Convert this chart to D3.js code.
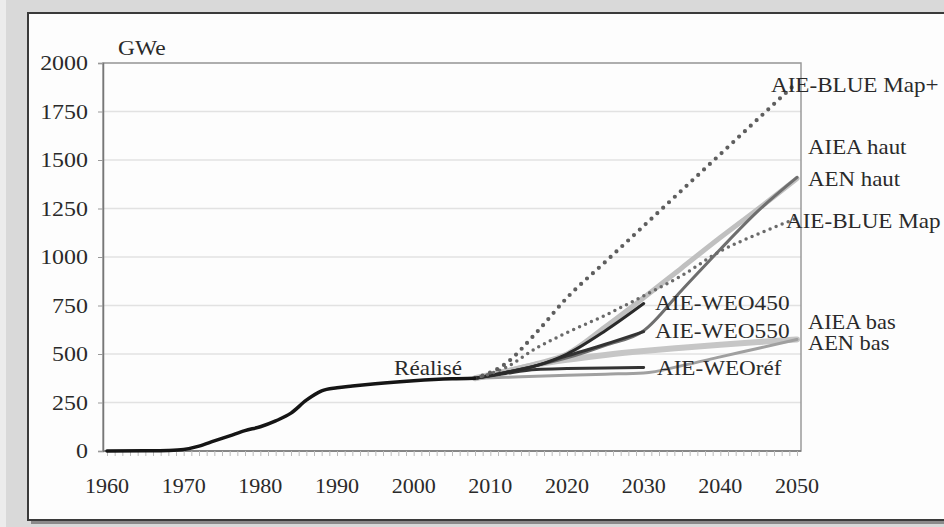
<!DOCTYPE html>
<html><head><meta charset="utf-8">
<script src="https://cdn.jsdelivr.net/npm/d3@7"></script>
<style>html,body{margin:0;padding:0;background:#dcdcdc;}svg{display:block;}</style>
</head><body>
<svg id="c" width="944" height="527"></svg>
<script>
// ---- data ----
const realiseYears  = [1960,1965,1968,1970,1972,1974,1976,1978,1980,1982,1984,1986,1988,1990,1992,1995,2000,2005,2008];
const realiseValues = [0,1,3,8,25,52,78,105,125,155,195,262,310,326,335,347,362,372,375];
const projYears   = [2008,2012,2016,2020,2025,2030,2035,2040,2045,2050];
const weoRef      = [375,400,420,425,428,430,null,null,null,null];
const weo450      = [375,405,440,500,620,760,null,null,null,null];
const weo550      = [375,405,440,490,550,615,null,null,null,null];
const aenHaut     = [375,405,440,480,545,620,830,1040,1240,1410];
const aieaHaut    = [375,410,450,500,640,790,945,1100,1250,1405];
const aieaBas     = [375,410,445,470,495,515,532,548,562,575];
const aenBas      = [375,380,385,390,396,402,440,485,530,575];
const blueMapPlus = [375,450,610,790,975,1160,1345,1530,1715,1900];
const blueMap     = [375,430,530,610,700,800,905,1030,1120,1200];
const yTicks = [0,250,500,750,1000,1250,1500,1750,2000];
const xTicks = [1960,1970,1980,1990,2000,2010,2020,2030,2040,2050];
const unitLabel = "GWe";

// ---- layout ----
const svg = d3.select("#c");
const FONT = '"Liberation Serif"';
const plot = {l:103, r:801, t:63, b:451};
const x = d3.scaleLinear().domain([1960,2050]).range([107,797]);
const y = d3.scaleLinear().domain([0,2000]).range([plot.b, plot.t]);

// frame
svg.append("rect").attr("x",0).attr("y",0).attr("width",944).attr("height",527).attr("fill","#d9d9d9");
svg.append("rect").attr("x",0).attr("y",0).attr("width",6).attr("height",527).attr("fill","#ececec");
svg.append("rect").attr("x",31).attr("y",17).attr("width",930).attr("height",507).attr("fill","#8a8a8a");
svg.append("rect").attr("x",28).attr("y",13).attr("width",930).attr("height",507)
  .attr("fill","#fdfdfd").attr("stroke","#3a3a3a").attr("stroke-width",2);

// grid
svg.append("g").selectAll("line").data(yTicks.filter(d=>d>0)).join("line")
  .attr("x1",plot.l).attr("x2",plot.r).attr("y1",d=>y(d)).attr("y2",d=>y(d))
  .attr("stroke","#e2e2e2").attr("stroke-width",1.5);
// plot border
svg.append("rect").attr("x",plot.l).attr("y",plot.t).attr("width",plot.r-plot.l).attr("height",plot.b-plot.t)
  .attr("fill","none").attr("stroke","#9a9a9a").attr("stroke-width",1.5);

// axes
const yAxis = d3.axisLeft(y).tickValues(yTicks).tickSize(5).tickFormat("");
svg.append("g").attr("transform",`translate(${plot.l},0)`).call(yAxis)
  .call(g=>g.select(".domain").attr("stroke","#777").attr("stroke-width",1.5))
  .call(g=>g.selectAll(".tick line").attr("stroke","#999"));
const yearTicks = d3.range(1960,2051);
const xAxis = d3.axisBottom(x).tickValues(yearTicks).tickSize(5).tickFormat("").tickSizeOuter(0);
svg.append("g").attr("transform",`translate(0,${plot.b})`).call(xAxis)
  .call(g=>g.select(".domain").attr("stroke","#777").attr("stroke-width",1.5).attr("d",`M${plot.l},0H${plot.r}`))
  .call(g=>g.selectAll(".tick line").attr("stroke","#bbb"));

function label(px, py, txt, anchor, sx, size){
  const g = svg.append("g").attr("transform",`translate(${px},${py}) scale(${sx},1)`);
  g.append("text").attr("x",0).attr("y",0).attr("text-anchor",anchor||"start")
    .style("font-family",FONT).style("font-size",(size||21)+"px").attr("fill","#2a2a2a").text(txt);
}
yTicks.forEach(v=>label(88, y(v)+7, String(v), "end", 1.14));
xTicks.forEach(v=>label(x(v), 493, String(v), "middle", 1.05));
label(118, 55, unitLabel, "start", 1.12);

// lines
const line = d3.line().defined(d=>d[1]!=null).x(d=>x(d[0])).y(d=>y(d[1])).curve(d3.curveMonotoneX);
function series(vals, color, w, dash){
  const p = svg.append("path").datum(projYears.map((yr,i)=>[yr,vals[i]]))
    .attr("d",line).attr("fill","none").attr("stroke",color).attr("stroke-width",w)
    .attr("stroke-linecap","round").attr("stroke-linejoin","round");
  if(dash) p.attr("stroke-dasharray",dash);
}
series(aieaBas, "#c6c6c6", 6);
series(aieaHaut, "#c0c0c0", 5);
series(aenBas, "#a0a0a0", 3);
series(aenHaut, "#6e6e6e", 3);
series(weoRef, "#333", 3);
series(weo550, "#333", 3);
series(weo450, "#2a2a2a", 3);
series(blueMap, "#6a6a6a", 3.5, "0,6.5");
series(blueMapPlus, "#5e5e5e", 4.2, "0,8");
svg.append("path").datum(realiseYears.map((yr,i)=>[yr,realiseValues[i]]))
  .attr("d",line).attr("fill","none").attr("stroke","#151515").attr("stroke-width",3.5)
  .attr("stroke-linecap","round");

// series labels
label(394, 375, "Réalisé", "start", 1.1);
label(771, 92, "AIE-BLUE Map+", "start", 1.1);
label(808, 154, "AIEA haut", "start", 1.09);
label(808, 186, "AEN haut", "start", 1.09);
label(786, 228, "AIE-BLUE Map", "start", 1.1);
label(655, 310, "AIE-WEO450", "start", 1.11);
label(655, 338, "AIE-WEO550", "start", 1.11);
label(657, 375, "AIE-WEOréf", "start", 1.1);
label(808, 329, "AIEA bas", "start", 1.12, 20);
label(808, 350, "AEN bas", "start", 1.12, 20);
</script>
</body></html>
